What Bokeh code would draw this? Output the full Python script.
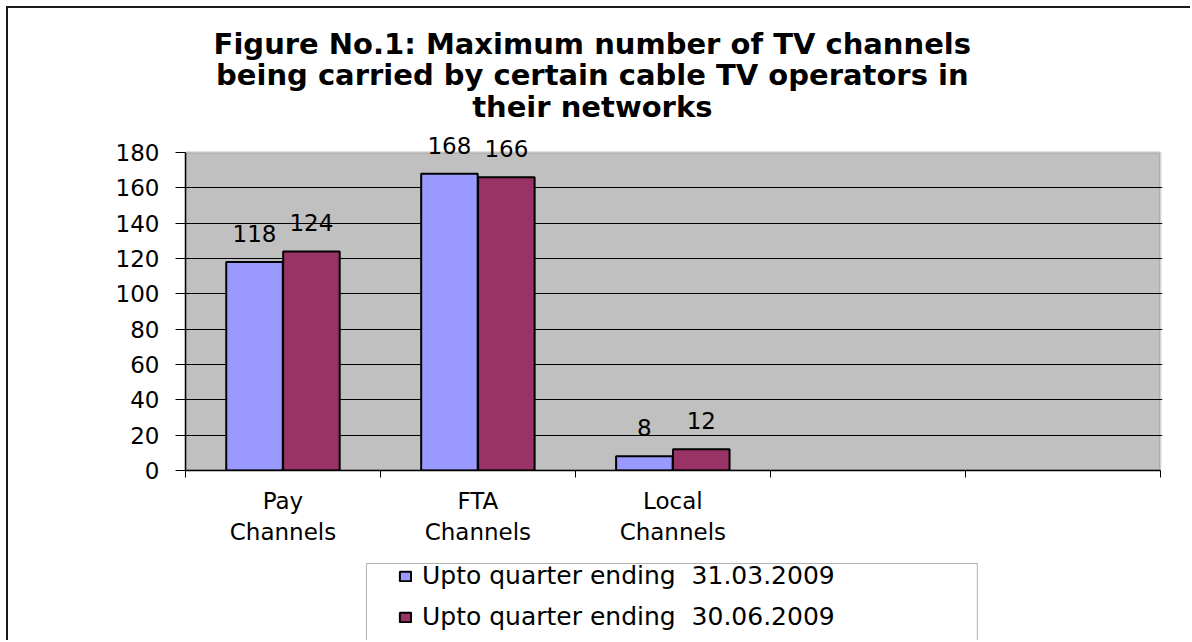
from bokeh.plotting import figure
from bokeh.layouts import column
from bokeh.models import (ColumnDataSource, Range1d, FixedTicker, LabelSet, Label,
                          Legend, LegendItem, BoxAnnotation)
from bokeh.core.properties import value
from bokeh.transform import dodge
from bokeh.embed import file_html
from bokeh.resources import INLINE

# ---- data ----
categories = ["Pay\nChannels", "FTA\nChannels", "Local\nChannels", "", ""]
q1_values = [118, 168, 8]
q2_values = [124, 166, 12]
series_names = ["Upto quarter ending  31.03.2009", "Upto quarter ending  30.06.2009"]
y_ticks = [0, 20, 40, 60, 80, 100, 120, 140, 160, 180]
title_lines = ["Figure No.1: Maximum number of TV channels",
               "being carried by certain cable TV operators in",
               "their networks"]

FONT = "DejaVu Sans"
BLUE = "#9999FF"
MAROON = "#993366"
BORDER = "2px solid #1a1a1a"

n_cat = len(categories)
cat_centers = [i + 0.5 for i in range(n_cat)]
y_top = y_ticks[-1]

src = ColumnDataSource(dict(
    x=cat_centers[:len(q1_values)],
    q1=q1_values,
    q2=q2_values,
    l1=[str(v) for v in q1_values],
    l2=[str(v) for v in q2_values],
))

W = 1184
H1 = 552
H2 = 82

# ---------------- chart figure ----------------
xr = Range1d(0, n_cat + 0.012)
p = figure(width=W, height=H1, output_backend="svg", toolbar_location=None,
           x_range=xr, y_range=Range1d(0, y_top * 1.4528),
           min_border_left=177, min_border_right=30, min_border_top=0,
           min_border_bottom=H1 - 462)
p.title.visible = False
p.styles = {"border-top": BORDER, "border-left": BORDER}

p.background_fill_color = "white"
p.border_fill_color = "white"
p.outline_line_color = None

# grey plot area with its border
p.add_layout(BoxAnnotation(left=0, right=n_cat, bottom=0, top=y_top,
                           fill_color="#C0C0C0", fill_alpha=1,
                           line_color="#808080", line_width=2.5, level="image"))

p.xgrid.visible = False
p.ygrid.grid_line_color = "black"
p.ygrid.grid_line_width = 1
p.ygrid.ticker = FixedTicker(ticks=y_ticks[1:-1])

# y axis
p.yaxis.ticker = FixedTicker(ticks=y_ticks)
p.yaxis.bounds = (0, y_top)
p.yaxis.major_tick_out = 10
p.yaxis.major_tick_in = 0
p.yaxis.minor_tick_out = 0
p.yaxis.minor_tick_in = 0
p.yaxis.axis_line_color = "black"
p.yaxis.axis_line_width = 1.5
p.yaxis.major_label_standoff = 16
p.yaxis.major_label_text_font = FONT
p.yaxis.major_label_text_font_size = "23px"
p.yaxis.major_label_text_color = "black"

# x axis
p.xaxis.ticker = FixedTicker(ticks=cat_centers, minor_ticks=list(range(n_cat + 1)))
p.xaxis.bounds = (0, n_cat)
p.xaxis.major_label_overrides = {c: lab for c, lab in zip(cat_centers, categories)}
p.xaxis.major_tick_out = 0
p.xaxis.major_tick_in = 0
p.xaxis.minor_tick_out = 7
p.xaxis.minor_tick_in = 0
p.xaxis.minor_tick_line_color = "black"
p.xaxis.axis_line_color = "black"
p.xaxis.axis_line_width = 1.5
p.xaxis.major_label_standoff = 10
p.xaxis.major_label_text_font = FONT
p.xaxis.major_label_text_font_size = "23px"
p.xaxis.major_label_text_color = "black"

# bars
off = 0.146
bw = 0.29
bar_style = dict(line_color="black", line_width=2)
p.vbar(x=dodge("x", -off), top="q1", width=bw, source=src, fill_color=BLUE, **bar_style)
p.vbar(x=dodge("x", off), top="q2", width=bw, source=src, fill_color=MAROON, **bar_style)

for col, lab, o in (("q1", "l1", -off), ("q2", "l2", off)):
    p.add_layout(LabelSet(x=dodge("x", o), y=col, text=lab, source=src, y_offset=20,
                          text_align="center", text_baseline="alphabetic",
                          text_font=value(FONT), text_font_size="23px",
                          text_color="black"))

# title (three centred lines)
title_y = [241.5, 223.6, 205.8]
for t, yy in zip(title_lines, title_y):
    p.add_layout(Label(x=2.087, y=yy, text=t, text_align="center",
                       text_baseline="alphabetic", text_font=FONT,
                       text_font_style="bold", text_font_size="29px",
                       text_color="black"))

# ---------------- legend strip ----------------
p2 = figure(width=W, height=H2, output_backend="svg", toolbar_location=None,
            x_range=xr, y_range=Range1d(0, H2),
            min_border_left=0, min_border_right=0, min_border_top=0,
            min_border_bottom=0)
p2.title.visible = False
p2.axis.visible = False
p2.grid.visible = False
p2.outline_line_color = None
p2.styles = {"border-left": BORDER}

p2.add_layout(BoxAnnotation(left=0.928, right=4.062, top=H2 - 5, bottom=-20,
                            fill_alpha=0, line_color="black", line_width=1))

# hidden proxies of the two series, only used for the legend swatches
g1 = p2.vbar(x=dodge("x", -off), top="q1", width=bw, source=src, fill_color=BLUE,
             visible=False, **bar_style)
g2 = p2.vbar(x=dodge("x", off), top="q2", width=bw, source=src, fill_color=MAROON,
             visible=False, **bar_style)

legend = Legend(items=[LegendItem(label=series_names[0], renderers=[g1]),
                       LegendItem(label=series_names[1], renderers=[g2])],
                location=(213, 9), padding=0, spacing=12, label_height=26,
                glyph_width=14, glyph_height=12, label_standoff=10, margin=0,
                border_line_alpha=0, background_fill_alpha=0,
                inactive_fill_alpha=0, click_policy="none",
                label_text_font=FONT, label_text_font_size="25px",
                label_text_color="black")
p2.add_layout(legend)

layout = column(p, p2, spacing=0, styles={"margin-left": "6px", "margin-top": "6px"})

open("out.html", "w").write(file_html(layout, INLINE))
